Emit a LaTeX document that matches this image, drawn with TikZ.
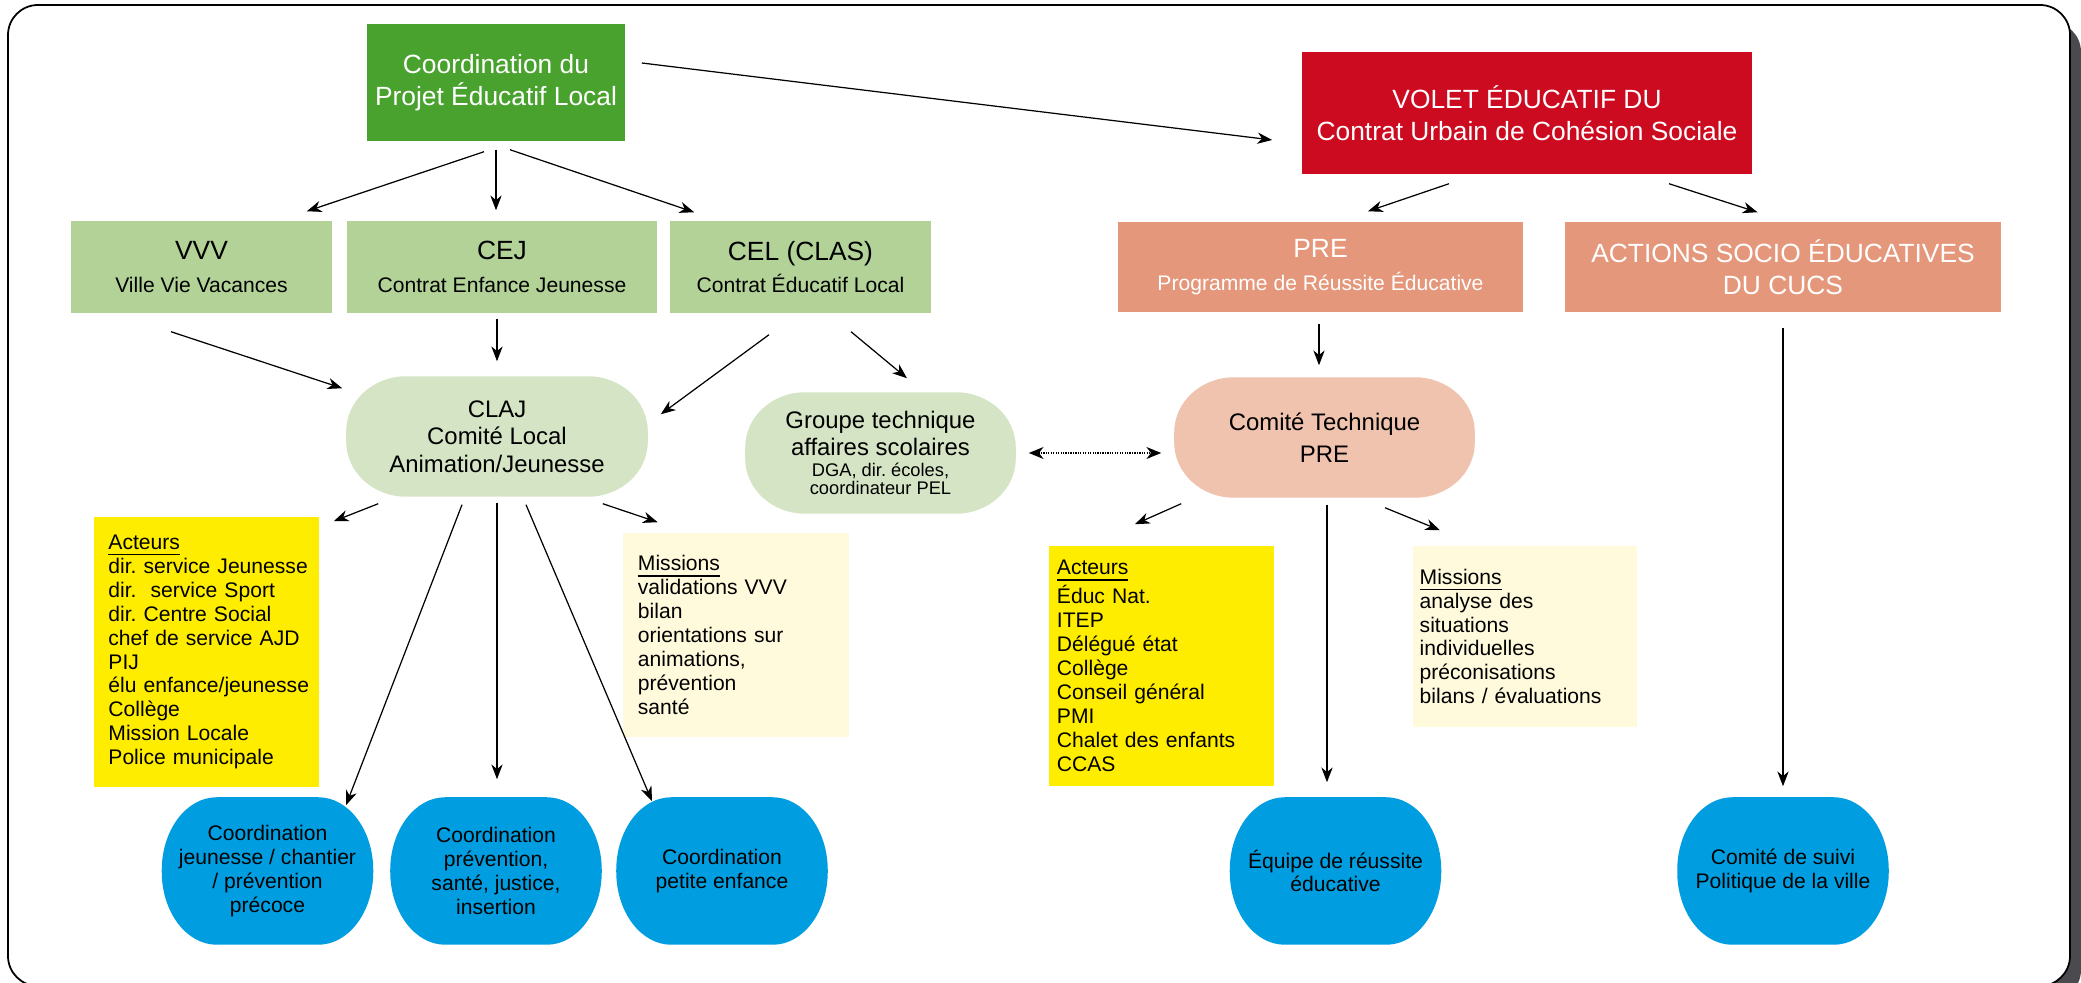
\documentclass[tikz,border=0pt]{standalone}
\usepackage{fontspec}
\setmainfont{Liberation Sans}
\usetikzlibrary{arrows.meta}
\frenchspacing

\definecolor{pelgreen}{RGB}{72,162,45}
\definecolor{cucsred}{RGB}{204,10,32}
\definecolor{dispgreen}{RGB}{178,210,152}
\definecolor{cucsorange}{RGB}{229,151,123}
\definecolor{palegreen}{RGB}{213,228,196}
\definecolor{palerose}{RGB}{240,195,174}
\definecolor{actyellow}{RGB}{255,237,0}
\definecolor{misyellow}{RGB}{255,250,220}
\definecolor{coordblue}{RGB}{0,158,224}
\definecolor{shadowgrey}{RGB}{75,74,79}

\newcommand{\fhead}{\fontsize{7.5}{9.2}\selectfont}
\newcommand{\fsub}{\fontsize{6}{9.2}\selectfont}
\newcommand{\fmid}{\fontsize{6.8}{7.8}\selectfont}
\newcommand{\flist}{\fontsize{6}{6.8}\selectfont}
\newcommand{\ftiny}{\fontsize{5.2}{5.6}\selectfont}

\pgfdeclarelayer{background}
\pgfsetlayers{background,main}

% soft box behind a node: node, x radius, y radius, colour
\newcommand{\softfill}[4]{%
    \fill[#4] ([xshift=#2]#1.north west) -- ([xshift=-#2]#1.north east)
        arc[start angle=90, end angle=0, x radius=#2, y radius=#3]
        -- ([yshift=#3]#1.south east)
        arc[start angle=0, end angle=-90, x radius=#2, y radius=#3]
        -- ([xshift=#2]#1.south west)
        arc[start angle=270, end angle=180, x radius=#2, y radius=#3]
        -- ([yshift=-#3]#1.north west)
        arc[start angle=180, end angle=90, x radius=#2, y radius=#3]
        -- cycle;}

\tikzset{
    headbox/.style={inner sep=0pt, align=center, font=\fhead},
    dispbox/.style={headbox, fill=dispgreen, minimum height=0.92cm},
    cucsbox/.style={headbox, fill=cucsorange, text=white, minimum height=0.9cm},
    softbox/.style={inner sep=0pt, align=center, font=\fmid},
    listbox/.style={inner ysep=0pt, align=left, font=\flist},
    blob/.style={inner sep=0pt, align=center, font=\flist, minimum width=2.1cm, minimum height=1.46cm},
    arr/.style={-{Stealth[length=4.2pt, width=3.2pt, inset=1.3pt]}, line width=0.35pt},
    dblarr/.style={{Stealth[length=4.2pt, width=3.4pt, inset=1.3pt]}-{Stealth[length=4.2pt, width=3.4pt, inset=1.3pt]}, line width=0.45pt, dash pattern=on 0.35pt off 0.35pt}
}

\begin{document}
\begin{tikzpicture}[x=0.01cm, y=-0.01cm]
            \useasboundingbox (0,0) rectangle (2081,983);

            \node[headbox, fill=pelgreen, text=white, minimum width=2.58cm, minimum height=1.17cm] (pel) at (496,82.5) {Coordination du\\Projet Éducatif Local};
            \node[headbox, fill=cucsred, text=white, minimum width=4.5cm, minimum height=1.22cm] (cucs) at (1527,113) {VOLET ÉDUCATIF DU\\Contrat Urbain de Cohésion Sociale};

            \node[dispbox, minimum width=2.61cm] (vvv) at (201.5,267) {VVV\\{\fsub Ville Vie Vacances}};
            \node[dispbox, minimum width=3.1cm] (cej) at (502,267) {CEJ\\{\fsub Contrat Enfance Jeunesse}};
            \node[dispbox, minimum width=2.61cm] (cel) at (800.5,267) {CEL (CLAS)\\{\fsub Contrat Éducatif Local}};
            \node[cucsbox, minimum width=4.05cm] (pre) at (1320.5,267) {PRE\\{\fsub Programme de Réussite Éducative}};
            \node[cucsbox, minimum width=4.365cm] (asocio) at (1783,267) {ACTIONS SOCIO ÉDUCATIVES\\DU CUCS};

            \node[softbox, minimum width=3cm, minimum height=1.19cm] (claj) at (497,436.5) {CLAJ\\Comité Local\\Animation/Jeunesse};
            \node[softbox, minimum width=2.69cm, minimum height=1.2cm] (gtas) at (880.5,453) {Groupe technique\\affaires scolaires\\[-2pt]{\ftiny DGA, dir. écoles,}\\[-2.6pt]{\ftiny coordinateur PEL}};
            \node[softbox, font=\fontsize{6.8}{9.1}\selectfont, minimum width=2.99cm, minimum height=1.19cm] (ctpre) at (1324.5,437.5) {Comité Technique\\PRE};

            \node[listbox, fill=actyellow, text width=2.1cm, inner xsep=0.075cm, minimum height=2.7cm] (actclaj) at (206.5,652) {\hspace*{0.07cm}\underline{Acteurs}\\\hspace*{0.07cm}dir. service Jeunesse\\\hspace*{0.07cm}dir.\ \ service Sport\\\hspace*{0.07cm}dir. Centre Social\\\hspace*{0.07cm}chef de service AJD\\\hspace*{0.07cm}PIJ\\\hspace*{0.07cm}élu enfance/jeunesse\\\hspace*{0.07cm}Collège\\\hspace*{0.07cm}Mission Locale\\\hspace*{0.07cm}Police municipale};
            \node[listbox, fill=misyellow, text width=1.96cm, inner xsep=0.15cm, minimum height=2.04cm] (misclaj) at (736,635) {\underline{Missions}\\validations VVV\\bilan\\orientations sur\\animations,\\prévention\\santé};
            \node[listbox, fill=actyellow, text width=2.09cm, inner xsep=0.08cm, minimum height=2.4cm] (actpre) at (1161.5,666) {\underline{Acteurs}\\Éduc Nat.\\ITEP\\Délégué état\\Collège\\Conseil général\\PMI\\Chalet des enfants\\CCAS};
            \node[listbox, fill=misyellow, text width=2.105cm, inner xsep=0.07cm, minimum height=1.81cm] (mispre) at (1525,636.5) {\underline{Missions}\\analyse des\\situations\\individuelles\\préconisations\\bilans / évaluations};

            \node[blob] (coorjeu) at (267.5,871) {Coordination\\jeunesse / chantier\\/ prévention\\précoce};
            \node[blob] (coorprev) at (496,871) {Coordination\\prévention,\\santé, justice,\\insertion};
            \node[blob] (coorpe) at (722,871) {Coordination\\petite enfance};
            \node[blob] (ere) at (1335.5,871) {Équipe de réussite\\éducative};
            \node[blob] (suivi) at (1783,871) {Comité de suivi\\Politique de la ville};

            \draw[arr] ([shift={(16,-19.5)}]pel.east) -- ([shift={(-29,27)}]cucs.west);
            \draw[arr] ([shift={(-12,10)}]pel.south) -- ([shift={(-26,-9)}]vvv.north east);
            \draw[arr] ([shift={(0,8)}]pel.south) -- ([shift={(0,-10)}]pel.south |- cej.north);
            \draw[arr] ([shift={(14,8)}]pel.south) -- ([shift={(25,-8)}]cel.north west);

            \draw[arr] ([shift={(-30.5,18)}]vvv.south) -- ([shift={(-4,12)}]claj.north west);
            \draw[arr] ([shift={(-5,5)}]cej.south) -- ([shift={(0,-15)}]claj.north);
            \draw[arr] ([shift={(-31.5,21)}]cel.south) -- ([shift={(13,38)}]claj.north east);
            \draw[arr] ([shift={(50.5,18)}]cel.south) -- ([shift={(26.5,-14)}]gtas.north);

            \draw[arr] ([shift={(-78,9)}]cucs.south) -- ([shift={(47.5,-10)}]pre.north);
            \draw[arr] ([shift={(142,9)}]cucs.south) -- ([shift={(-25.5,-9)}]asocio.north);
            \draw[arr] ([shift={(-1.5,11)}]pre.south) -- ([shift={(-5.5,-12)}]ctpre.north);
            \draw[arr] ([shift={(0,15)}]asocio.south) -- ([shift={(0,-11)}]asocio.south |- suivi.north);

            \draw[dblarr] ([shift={(13,0)}]gtas.east) -- ([shift={(-13,0)}]gtas.east -| ctpre.west);

            % CLAJ
            \draw[arr] ([shift={(32,7)}]claj.south west) -- ([shift={(14,5)}]actclaj.north east);
            \draw[arr] ([shift={(-35,8)}]claj.south) -- ([shift={(78.5,8)}]coorjeu.north);
            \draw[arr] ([shift={(0,6)}]claj.south) -- ([shift={(0,-18)}]claj.south |- coorprev.north);
            \draw[arr] ([shift={(29,8)}]claj.south) -- ([shift={(-70,4)}]coorpe.north);
            \draw[arr] ([shift={(-45,7)}]claj.south east) -- ([shift={(35.5,-10)}]misclaj.north west);

            % comite technique
            \draw[arr] ([shift={(7,6)}]ctpre.south west) -- ([shift={(-26.5,-21)}]actpre.north);
            \draw[arr] ([shift={(2.5,7)}]ctpre.south) -- ([shift={(2.5,-15)}]ctpre.south |- ere.north);
            \draw[arr] ([shift={(60.5,10)}]ctpre.south) -- ([shift={(28,-15)}]mispre.north west);

            \begin{pgfonlayer}{background}
                \fill[shadowgrey, rounded corners=0.3cm] (20,22) rectangle (2081,1000);
                \filldraw[fill=white, draw=black, line width=0.5pt, rounded corners=0.3cm] (8,5) rectangle (2070,986);
                \softfill{claj}{0.6cm}{0.55cm}{palegreen}
                \softfill{gtas}{0.6cm}{0.55cm}{palegreen}
                \softfill{ctpre}{0.6cm}{0.55cm}{palerose}
                \foreach \b in {coorjeu,coorprev,coorpe,ere,suivi} {\softfill{\b}{0.55cm}{0.73cm}{coordblue}}
            \end{pgfonlayer}
\end{tikzpicture}
\end{document}
